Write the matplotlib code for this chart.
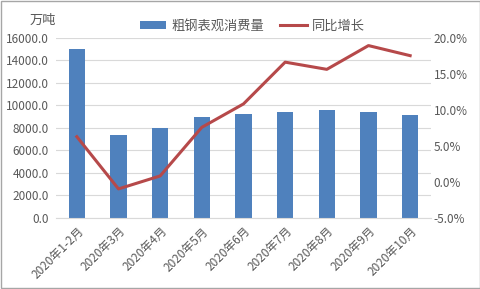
import matplotlib
matplotlib.use("Agg")
import matplotlib.pyplot as plt
from matplotlib.ticker import FuncFormatter

plt.rcParams["font.family"] = ["Noto Sans CJK SC", "DejaVu Sans"]

months = ["2020年1-2月", "2020年3月", "2020年4月", "2020年5月", "2020年6月",
          "2020年7月", "2020年8月", "2020年9月", "2020年10月"]
consumption = [14950, 7350, 8000, 8950, 9220, 9400, 9570, 9400, 9130]   # 万吨
yoy = [6.25, -1.0, 0.8, 7.55, 10.8, 16.6, 15.6, 18.9, 17.5]             # %

C_BAR = "#4F81BD"
C_LINE = "#B6494A"
C_TXT = "#595959"

fig = plt.figure(figsize=(4.81, 2.89), dpi=100)
ax = fig.add_axes([0.1164, 0.2467, 0.7796, 0.623])
ax2 = ax.twinx()

x = list(range(len(months)))
bars = ax.bar(x, consumption, width=0.39, color=C_BAR, zorder=2, label="粗钢表观消费量")
line, = ax2.plot(x, yoy, color=C_LINE, lw=2.2, zorder=3, label="同比增长")

ax.set_xlim(-0.5, len(months) - 0.5)
ax.set_ylim(0, 16000)
ax.set_yticks(range(0, 16001, 2000))
ax.yaxis.set_major_formatter(FuncFormatter(lambda v, _: f"{v:.1f}"))
ax2.set_ylim(-5, 20)
ax2.set_yticks([-5, 0, 5, 10, 15, 20])
ax2.yaxis.set_major_formatter(FuncFormatter(lambda v, _: f"{v:.1f}%"))

ax.set_xticks(x)
ax.set_xticklabels(months, rotation=45, ha="right", rotation_mode="anchor")
ax.grid(axis="y", color="#D9D9D9", lw=0.8, zorder=0)
for a in (ax, ax2):
    for s in a.spines.values():
        s.set_visible(False)
    a.tick_params(length=0, labelsize=8.5, colors=C_TXT)
ax.spines["bottom"].set_visible(True)
ax.spines["bottom"].set_color("#D9D9D9")
ax.tick_params(axis="x", pad=5)
ax.tick_params(axis="y", pad=5)
ax2.tick_params(axis="y", pad=2)

fig.text(0.09, 0.93, "万吨", fontsize=9.5, color=C_TXT, ha="center", va="center")
fig.legend([bars, line], ["粗钢表观消费量", "同比增长"], loc="center",
           bbox_to_anchor=(0.525, 0.91), ncol=2, frameon=False, fontsize=9.5,
           labelcolor=C_TXT, handlelength=2.0, handleheight=0.6, columnspacing=1.2,
           handletextpad=0.4)

# grey frame around the whole chart
fig.patches.append(plt.Rectangle((0.002, 0.003), 0.996, 0.994, transform=fig.transFigure,
                                 fill=False, edgecolor="#A6A6A6", lw=1))

fig.savefig("out.png", dpi=100)
